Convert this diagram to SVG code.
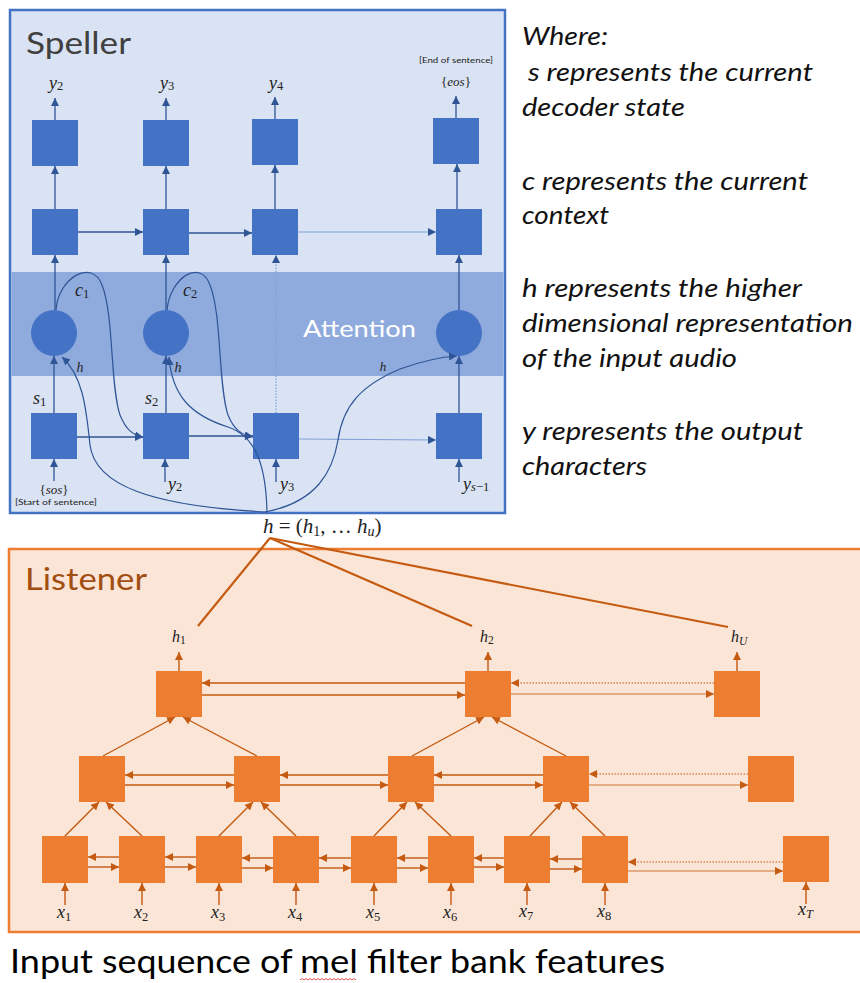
<svg xmlns="http://www.w3.org/2000/svg" width="860" height="983" viewBox="0 0 860 983">
<defs>
  <marker id="mB" viewBox="0 0 10 10" refX="10" refY="5" markerWidth="8" markerHeight="8" markerUnits="userSpaceOnUse" orient="auto">
    <path d="M0,0 L10,5 L0,10 z" fill="#2F5597"/>
  </marker>
  <marker id="mO" viewBox="0 0 10 10" refX="10" refY="5" markerWidth="8" markerHeight="8" markerUnits="userSpaceOnUse" orient="auto">
    <path d="M0,0 L10,5 L0,10 z" fill="#C55A11"/>
  </marker>
  <style>
    .sq { fill: #4472C4; }
    .oq { fill: #ED7D31; }
    .ba { stroke: #2F5597; stroke-width: 1.3; fill: none; marker-end: url(#mB); }
    .bl { stroke: #7F9FD6; stroke-width: 1.2; fill: none; marker-end: url(#mB); }
    .bd { stroke: #7F9FD6; stroke-width: 1.2; stroke-dasharray: 1.5 1.5; fill: none; marker-end: url(#mB); }
    .bc { stroke: #2F5597; stroke-width: 1.2; fill: none; marker-end: url(#mB); }
    .oa { stroke: #C55A11; stroke-width: 1.4; fill: none; marker-end: url(#mO); }
    .ol { stroke: #DE9A6A; stroke-width: 1.4; fill: none; marker-end: url(#mO); }
    .od { stroke: #C55A11; stroke-width: 1.1; stroke-dasharray: 1.5 1.5; fill: none; marker-end: url(#mO); }
    .oh { stroke: #C55A11; stroke-width: 2.2; fill: none; }
    .m { font-family: "Liberation Serif", "DejaVu Serif", serif; fill: #222; }
    .i { font-style: italic; }
    .note { font-family: Lato, "Open Sans", sans-serif; font-style: italic; font-size: 24.5px; fill: #111; }
    .small { font-family: Lato, "Liberation Sans", sans-serif; font-size: 8px; fill: #222; }
    .cap { font-family: Lato, "Open Sans", sans-serif; font-size: 32px; fill: #000; }
  </style>
</defs>

<!-- Speller panel -->
<g id="speller">
  <rect x="10" y="10" width="495" height="503" fill="#DAE3F3" stroke="#4472C4" stroke-width="2.5"/>
  <rect x="11.5" y="272" width="492" height="104" fill="#8FAADC"/>
  <text x="26" y="54" font-family="Lato, 'Open Sans', sans-serif" font-size="30" fill="#404040" textLength="105" lengthAdjust="spacingAndGlyphs">Speller</text>
  <text x="303" y="337" font-family="Lato, 'Open Sans', sans-serif" font-size="24" fill="#FFFFFF" textLength="113" lengthAdjust="spacingAndGlyphs">Attention</text>
</g>

<!-- Listener panel -->
<g id="listener">
  <rect x="9" y="549" width="860" height="383" fill="#FBE5D6" stroke="#ED7D31" stroke-width="2.5"/>
  <text x="25" y="590" font-family="Lato, 'Open Sans', sans-serif" font-size="30" fill="#A24E12" textLength="122" lengthAdjust="spacingAndGlyphs">Listener</text>
</g>

<!-- Speller output layer -->
<g id="sp-out-1"><rect class="sq" x="32" y="120" width="46" height="46"/></g>
<g id="sp-out-2"><rect class="sq" x="143" y="120" width="46" height="46"/></g>
<g id="sp-out-3"><rect class="sq" x="252" y="119" width="46" height="46"/></g>
<g id="sp-out-4"><rect class="sq" x="433" y="118" width="46" height="46"/></g>

<!-- Speller recurrent layer -->
<g id="sp-dec-1"><rect class="sq" x="32" y="209" width="46" height="46"/></g>
<g id="sp-dec-2"><rect class="sq" x="143" y="209" width="46" height="46"/></g>
<g id="sp-dec-3"><rect class="sq" x="252" y="209" width="46" height="46"/></g>
<g id="sp-dec-4"><rect class="sq" x="436" y="209" width="46" height="46"/></g>

<!-- Attention units -->
<g id="att-1"><circle class="sq" cx="54" cy="333" r="23"/></g>
<g id="att-2"><circle class="sq" cx="166" cy="333" r="23"/></g>
<g id="att-3"><circle class="sq" cx="459" cy="333" r="23"/></g>

<!-- Decoder state layer -->
<g id="sp-st-1"><rect class="sq" x="31" y="413" width="46" height="46"/></g>
<g id="sp-st-2"><rect class="sq" x="143" y="413" width="46" height="46"/></g>
<g id="sp-st-3"><rect class="sq" x="253" y="413" width="46" height="46"/></g>
<g id="sp-st-4"><rect class="sq" x="436" y="413" width="46" height="46"/></g>

<!-- Listener pyramid: top layer -->
<g id="l3-1"><rect class="oq" x="156" y="671" width="46" height="46"/></g>
<g id="l3-2"><rect class="oq" x="465" y="671" width="46" height="46"/></g>
<g id="l3-3"><rect class="oq" x="714" y="671" width="46" height="46"/></g>

<!-- Listener pyramid: middle layer -->
<g id="l2-1"><rect class="oq" x="79" y="756" width="46" height="46"/></g>
<g id="l2-2"><rect class="oq" x="234" y="756" width="46" height="46"/></g>
<g id="l2-3"><rect class="oq" x="388" y="756" width="46" height="46"/></g>
<g id="l2-4"><rect class="oq" x="543" y="756" width="46" height="46"/></g>
<g id="l2-5"><rect class="oq" x="748" y="756" width="46" height="46"/></g>

<!-- Listener pyramid: bottom layer -->
<g id="l1-1"><rect class="oq" x="42" y="836" width="46" height="47"/></g>
<g id="l1-2"><rect class="oq" x="119" y="836" width="46" height="47"/></g>
<g id="l1-3"><rect class="oq" x="196" y="836" width="46" height="47"/></g>
<g id="l1-4"><rect class="oq" x="273" y="836" width="46" height="47"/></g>
<g id="l1-5"><rect class="oq" x="351" y="836" width="46" height="47"/></g>
<g id="l1-6"><rect class="oq" x="428" y="836" width="46" height="47"/></g>
<g id="l1-7"><rect class="oq" x="504" y="836" width="46" height="47"/></g>
<g id="l1-8"><rect class="oq" x="582" y="836" width="46" height="47"/></g>
<g id="l1-9"><rect class="oq" x="783" y="836" width="46" height="46"/></g>

<!-- Connectors -->
<g id="connectors">
  <!-- speller: outputs -->
  <line class="ba" x1="55" y1="120" x2="55" y2="98"/>
  <line class="ba" x1="166" y1="120" x2="166" y2="98"/>
  <line class="ba" x1="275" y1="119" x2="275" y2="97"/>
  <line class="ba" x1="456" y1="118" x2="456" y2="96"/>
  <!-- speller: recurrent to output -->
  <line class="ba" x1="55" y1="209" x2="55" y2="166"/>
  <line class="ba" x1="166" y1="209" x2="166" y2="166"/>
  <line class="ba" x1="275" y1="209" x2="275" y2="165"/>
  <line class="ba" x1="457" y1="209" x2="457" y2="164"/>
  <!-- speller: recurrent chain -->
  <line class="ba" x1="78" y1="232" x2="143" y2="232"/>
  <line class="ba" x1="189" y1="233" x2="252" y2="233"/>
  <line class="bl" x1="298" y1="232" x2="436" y2="232"/>
  <!-- attention to recurrent -->
  <line class="ba" x1="55" y1="310" x2="55" y2="255"/>
  <line class="ba" x1="166" y1="310" x2="166" y2="255"/>
  <line class="ba" x1="459" y1="310" x2="459" y2="255"/>
  <line class="bd" x1="276" y1="413" x2="276" y2="255"/>
  <!-- state to attention -->
  <line class="ba" x1="54" y1="413" x2="54" y2="356"/>
  <line class="ba" x1="166" y1="413" x2="166" y2="356"/>
  <line class="ba" x1="459" y1="413" x2="459" y2="356"/>
  <!-- state chain -->
  <line class="ba" x1="77" y1="437" x2="143" y2="437"/>
  <line class="ba" x1="189" y1="436" x2="253" y2="436"/>
  <line class="bl" x1="299" y1="439" x2="436" y2="440"/>
  <!-- state inputs -->
  <line class="ba" x1="54" y1="481" x2="54" y2="459"/>
  <line class="ba" x1="165" y1="482" x2="165" y2="459"/>
  <line class="ba" x1="276" y1="482" x2="276" y2="459"/>
  <line class="ba" x1="459" y1="482" x2="459" y2="459"/>
  <!-- context curves -->
  <path class="bc" d="M56 310 C58 278 92 258 102 285 C114 315 110 385 120 415 C126 430 133 435 143 437"/>
  <path class="bc" d="M167 310 C170 278 200 258 210 285 C222 315 218 385 228 415 C234 430 242 435 253 437"/>
  <!-- listener features to attention -->
  <path class="bc" d="M267 512 C150 506 95 485 90 445 C86 405 82 375 62 357"/>
  <path class="bc" d="M267 512 C266 470 258 437 228 427 C190 415 172 395 169 357"/>
  <path class="bc" d="M265 512 C318 502 333 470 338 440 C343 405 362 385 400 369 C425 360 440 357 457 356"/>

  <!-- h fan-out -->
  <line class="oh" x1="270" y1="538" x2="198" y2="626"/>
  <line class="oh" x1="270" y1="538" x2="472" y2="626"/>
  <line class="oh" x1="270" y1="538" x2="728" y2="627"/>

  <!-- listener top outputs -->
  <line class="oa" x1="179" y1="671" x2="179" y2="652"/>
  <line class="oa" x1="488" y1="671" x2="488" y2="652"/>
  <line class="oa" x1="737" y1="671" x2="737" y2="652"/>
  <!-- listener top chain -->
  <line class="oa" x1="465" y1="683" x2="202" y2="683"/>
  <line class="oa" x1="202" y1="695" x2="465" y2="695"/>
  <line class="od" x1="714" y1="683" x2="511" y2="683"/>
  <line class="ol" x1="511" y1="694" x2="714" y2="694"/>
  <!-- listener middle chain -->
  <line class="oa" x1="234" y1="775" x2="125" y2="775"/>
  <line class="oa" x1="125" y1="785" x2="234" y2="785"/>
  <line class="oa" x1="388" y1="775" x2="280" y2="775"/>
  <line class="oa" x1="280" y1="785" x2="388" y2="785"/>
  <line class="oa" x1="543" y1="775" x2="434" y2="775"/>
  <line class="oa" x1="434" y1="785" x2="543" y2="785"/>
  <line class="od" x1="748" y1="774" x2="589" y2="774"/>
  <line class="ol" x1="589" y1="785" x2="748" y2="785"/>
  <!-- listener bottom chain -->
  <line class="oa" x1="119" y1="857" x2="88" y2="857"/>
  <line class="oa" x1="88" y1="867" x2="119" y2="867"/>
  <line class="oa" x1="196" y1="857" x2="165" y2="857"/>
  <line class="oa" x1="165" y1="867" x2="196" y2="867"/>
  <line class="oa" x1="273" y1="858" x2="242" y2="858"/>
  <line class="oa" x1="242" y1="868" x2="273" y2="868"/>
  <line class="oa" x1="351" y1="858" x2="319" y2="858"/>
  <line class="oa" x1="319" y1="868" x2="351" y2="868"/>
  <line class="oa" x1="428" y1="858" x2="397" y2="858"/>
  <line class="oa" x1="397" y1="868" x2="428" y2="868"/>
  <line class="oa" x1="504" y1="858" x2="474" y2="858"/>
  <line class="oa" x1="474" y1="867" x2="504" y2="867"/>
  <line class="oa" x1="582" y1="859" x2="550" y2="859"/>
  <line class="oa" x1="550" y1="869" x2="582" y2="869"/>
  <line class="od" x1="783" y1="862" x2="628" y2="862"/>
  <line class="ol" x1="628" y1="871" x2="783" y2="871"/>
  <!-- listener inputs -->
  <line class="oa" x1="65" y1="905" x2="65" y2="883"/>
  <line class="oa" x1="142" y1="905" x2="142" y2="883"/>
  <line class="oa" x1="219" y1="905" x2="219" y2="883"/>
  <line class="oa" x1="296" y1="905" x2="296" y2="883"/>
  <line class="oa" x1="374" y1="905" x2="374" y2="883"/>
  <line class="oa" x1="451" y1="905" x2="451" y2="883"/>
  <line class="oa" x1="527" y1="905" x2="527" y2="883"/>
  <line class="oa" x1="605" y1="905" x2="605" y2="883"/>
  <line class="oa" x1="806" y1="904" x2="806" y2="882"/>
  <!-- pyramid reductions: bottom to middle -->
  <line class="oa" x1="65" y1="836" x2="99" y2="802"/>
  <line class="oa" x1="142" y1="836" x2="106" y2="802"/>
  <line class="oa" x1="219" y1="836" x2="253" y2="802"/>
  <line class="oa" x1="296" y1="836" x2="261" y2="802"/>
  <line class="oa" x1="374" y1="836" x2="407" y2="802"/>
  <line class="oa" x1="451" y1="836" x2="415" y2="802"/>
  <line class="oa" x1="530" y1="836" x2="562" y2="802"/>
  <line class="oa" x1="605" y1="836" x2="570" y2="802"/>
  <!-- pyramid reductions: middle to top -->
  <line class="oa" x1="103" y1="756" x2="175" y2="717"/>
  <line class="oa" x1="257" y1="756" x2="183" y2="717"/>
  <line class="oa" x1="412" y1="756" x2="484" y2="717"/>
  <line class="oa" x1="566" y1="756" x2="492" y2="717"/>
</g>

<!-- Speller labels -->
<g id="speller-labels" class="m">
  <text x="56" y="89" font-size="18" text-anchor="middle"><tspan class="i">y</tspan><tspan font-size="12.5" dy="1">2</tspan></text>
  <text x="167" y="89" font-size="18" text-anchor="middle"><tspan class="i">y</tspan><tspan font-size="12.5" dy="1">3</tspan></text>
  <text x="276" y="89" font-size="18" text-anchor="middle"><tspan class="i">y</tspan><tspan font-size="12.5" dy="1">4</tspan></text>
  <text x="456" y="86" font-size="13" text-anchor="middle">{<tspan class="i">eos</tspan>}</text>
  <text class="small" x="456" y="63" text-anchor="middle" textLength="74" lengthAdjust="spacingAndGlyphs">[End of sentence]</text>
  <text x="75" y="296" font-size="18"><tspan class="i">c</tspan><tspan font-size="12.5" dy="2">1</tspan></text>
  <text x="183" y="296" font-size="18"><tspan class="i">c</tspan><tspan font-size="12.5" dy="2">2</tspan></text>
  <text x="80" y="372" font-size="14" text-anchor="middle" class="i">h</text>
  <text x="178" y="372" font-size="14" text-anchor="middle" class="i">h</text>
  <text x="383" y="371" font-size="13" text-anchor="middle" class="i">h</text>
  <text x="33" y="404" font-size="18"><tspan class="i">s</tspan><tspan font-size="12.5" dy="2">1</tspan></text>
  <text x="145" y="404" font-size="18"><tspan class="i">s</tspan><tspan font-size="12.5" dy="2">2</tspan></text>
  <text x="54" y="494" font-size="13" text-anchor="middle">{<tspan class="i">sos</tspan>}</text>
  <text class="small" x="56" y="505" text-anchor="middle" textLength="82" lengthAdjust="spacingAndGlyphs">[Start of sentence]</text>
  <text x="168" y="490" font-size="18"><tspan class="i">y</tspan><tspan font-size="12.5" dy="1">2</tspan></text>
  <text x="280" y="490" font-size="18"><tspan class="i">y</tspan><tspan font-size="12.5" dy="1">3</tspan></text>
  <text x="463" y="490" font-size="18"><tspan class="i">y</tspan><tspan font-size="12.5" dy="1"><tspan class="i">s</tspan>−1</tspan></text>
</g>

<!-- Shared encoding label -->
<g id="h-label" class="m">
  <text x="263" y="533" font-size="21"><tspan class="i">h</tspan> = (<tspan class="i">h</tspan><tspan font-size="14" dy="3">1</tspan><tspan dy="-3">, … </tspan><tspan class="i">h</tspan><tspan font-size="14" dy="3" class="i">u</tspan><tspan dy="-3">)</tspan></text>
</g>

<!-- Listener labels -->
<g id="listener-labels" class="m">
  <text x="172" y="642" font-size="16"><tspan class="i">h</tspan><tspan font-size="11.5" dy="2">1</tspan></text>
  <text x="480" y="642" font-size="16"><tspan class="i">h</tspan><tspan font-size="11.5" dy="2">2</tspan></text>
  <text x="731" y="642" font-size="16"><tspan class="i">h</tspan><tspan font-size="11.5" dy="3" class="i">U</tspan></text>
  <text x="57" y="918" font-size="18"><tspan class="i">x</tspan><tspan font-size="12.5" dy="3">1</tspan></text>
  <text x="134" y="918" font-size="18"><tspan class="i">x</tspan><tspan font-size="12.5" dy="3">2</tspan></text>
  <text x="211" y="918" font-size="18"><tspan class="i">x</tspan><tspan font-size="12.5" dy="3">3</tspan></text>
  <text x="288" y="918" font-size="18"><tspan class="i">x</tspan><tspan font-size="12.5" dy="3">4</tspan></text>
  <text x="366" y="918" font-size="18"><tspan class="i">x</tspan><tspan font-size="12.5" dy="3">5</tspan></text>
  <text x="443" y="918" font-size="18"><tspan class="i">x</tspan><tspan font-size="12.5" dy="3">6</tspan></text>
  <text x="519" y="917" font-size="18"><tspan class="i">x</tspan><tspan font-size="12.5" dy="3">7</tspan></text>
  <text x="597" y="917" font-size="18"><tspan class="i">x</tspan><tspan font-size="12.5" dy="3">8</tspan></text>
  <text x="798" y="915" font-size="18"><tspan class="i">x</tspan><tspan font-size="12.5" dy="3" class="i">T</tspan></text>
</g>

<!-- Legend -->
<g id="legend">
  <text class="note" x="522" y="45" textLength="86" lengthAdjust="spacingAndGlyphs">Where:</text>
  <text class="note" x="528" y="81" textLength="285" lengthAdjust="spacingAndGlyphs">s represents the current</text>
  <text class="note" x="522" y="116" textLength="163" lengthAdjust="spacingAndGlyphs">decoder state</text>
  <text class="note" x="522" y="190" textLength="286" lengthAdjust="spacingAndGlyphs">c represents the current</text>
  <text class="note" x="522" y="224" textLength="87" lengthAdjust="spacingAndGlyphs">context</text>
  <text class="note" x="522" y="297" textLength="280" lengthAdjust="spacingAndGlyphs">h represents the higher</text>
  <text class="note" x="522" y="332" textLength="331" lengthAdjust="spacingAndGlyphs">dimensional representation</text>
  <text class="note" x="522" y="367" textLength="215" lengthAdjust="spacingAndGlyphs">of the input audio</text>
  <text class="note" x="522" y="440" textLength="281" lengthAdjust="spacingAndGlyphs">y represents the output</text>
  <text class="note" x="522" y="475" textLength="125" lengthAdjust="spacingAndGlyphs">characters</text>
</g>

<!-- Caption, word by word -->
<g id="caption">
  <text class="cap" y="973"><tspan x="10" textLength="83" lengthAdjust="spacingAndGlyphs">Input</tspan> <tspan x="102" textLength="149" lengthAdjust="spacingAndGlyphs">sequence</tspan> <tspan x="260" textLength="32" lengthAdjust="spacingAndGlyphs">of</tspan> <tspan x="300" textLength="58" lengthAdjust="spacingAndGlyphs">mel</tspan> <tspan x="367" textLength="74" lengthAdjust="spacingAndGlyphs">filter</tspan> <tspan x="450" textLength="76" lengthAdjust="spacingAndGlyphs">bank</tspan> <tspan x="535" textLength="130" lengthAdjust="spacingAndGlyphs">features</tspan></text>
  <path d="M300 980 l2 -1.5 l2 1.5 l2 -1.5 l2 1.5 l2 -1.5 l2 1.5 l2 -1.5 l2 1.5 l2 -1.5 l2 1.5 l2 -1.5 l2 1.5 l2 -1.5 l2 1.5 l2 -1.5 l2 1.5 l2 -1.5 l2 1.5 l2 -1.5 l2 1.5 l2 -1.5 l2 1.5 l2 -1.5 l2 1.5 l2 -1.5 l2 1.5 l2 -1.5 l2 1.5" fill="none" stroke="#D03030" stroke-width="0.8"/>
</g>
</svg>
